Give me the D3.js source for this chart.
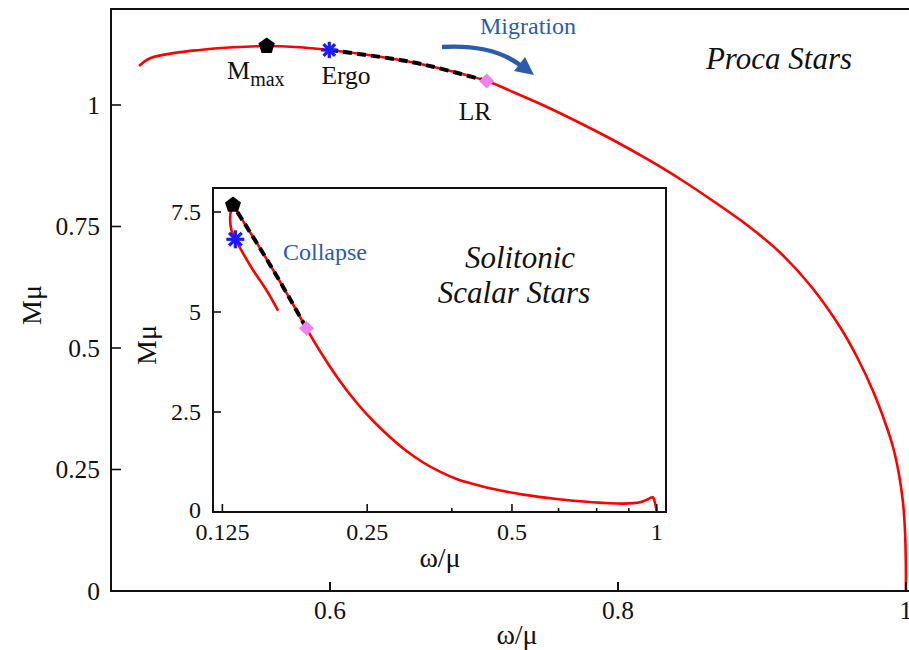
<!DOCTYPE html>
<html>
<head>
<meta charset="utf-8">
<script src="https://cdn.jsdelivr.net/npm/d3@7/dist/d3.min.js"></script>
<style>
  html, body { margin: 0; padding: 0; background: #fff; }
  svg { display: block; }
  text { font-family: "Liberation Serif", "DejaVu Serif", serif; fill: #111; }
</style>
</head>
<body>
<svg id="chart" width="909" height="650"></svg>
<script>
// ---- Proca stars: mass vs frequency (main panel) ----
const procaOmega = [0.4674, 0.4750, 0.4935, 0.5097, 0.5326, 0.5560, 0.5792, 0.5995, 0.6486, 0.6715, 0.7088,
                    0.7271, 0.7507, 0.7736, 0.7965, 0.8201, 0.8431, 0.8660, 0.8896, 0.9125, 0.9347, 0.9542,
                    0.9667, 0.9771, 0.9854, 0.9910, 0.9951, 0.9979, 0.9993, 0.99986, 1.0000];
const procaMass  = [1.0802, 1.0961, 1.1077, 1.1132, 1.1187, 1.1214, 1.1187, 1.1132, 1.0926, 1.0788, 1.0494,
                    1.0267, 0.9959, 0.9630, 0.9280, 0.8889, 0.8477, 0.8025, 0.7531, 0.6965, 0.6245, 0.5432,
                    0.4774, 0.4115, 0.3477, 0.2963, 0.2407, 0.1831, 0.1255, 0.0679, 0.0000];
// special points on the Proca branch: [omega, mass]
const procaMmax = [0.5560, 1.1214];
const procaErgo = [0.5995, 1.1132];
const procaLR   = [0.7088, 1.0494];

// ---- Solitonic scalar stars (inset), stable branch from omega = 1 up to M_max ----
const scalarOmega = [1.0000, 0.9990, 0.9918, 0.9810, 0.9605, 0.9231, 0.8520, 0.7264, 0.6193, 0.5277, 0.4499,
                     0.4153, 0.3836, 0.3540, 0.3269, 0.3018, 0.2787, 0.2572, 0.2375, 0.2193, 0.2024, 0.1869,
                     0.1726, 0.1593, 0.1471, 0.1315];
const scalarMass  = [0.0000, 0.0300, 0.2250, 0.3675, 0.3250, 0.2425, 0.2100, 0.2500, 0.3250, 0.4350, 0.5925,
                     0.7000, 0.8250, 1.0075, 1.2375, 1.5250, 1.8750, 2.2750, 2.7375, 3.2750, 3.9000, 4.5925,
                     5.3350, 6.0550, 6.7400, 7.6750];
// collapse branch beyond M_max
const collapseOmega = [0.1315, 0.1299, 0.1305, 0.1330, 0.1380, 0.1447, 0.1543, 0.1632];
const collapseMass  = [7.6750, 7.4675, 7.0500, 6.8175, 6.4675, 6.0500, 5.5500, 5.0325];
const scalarMmax = [0.1315, 7.6750];
const scalarErgo = [0.1330, 6.8175];
const scalarLR   = [0.1869, 4.5925];

// axis ticks
const mainXTicks = [0.6, 0.8, 1];
const mainYTicks = [0, 0.25, 0.5, 0.75, 1];
const insetXMajor = [0.125, 0.25, 0.5, 1];
const insetXMinor = [0.375, 0.625, 0.75, 0.875];
const insetYTicks = [0, 2.5, 5, 7.5];

const RED = "#ff0000", BLUE = "#1a1aff", VIOLET = "#ee82ee", NAVY = "#2b5cab";

const svg = d3.select("#chart");

function zipPts(xs, ys) { return xs.map((x, i) => [x, ys[i]]); }

// pentagon marker path centred at (0,0)
function pentagon(r) {
  const pts = d3.range(5).map(i => {
    const a = -Math.PI / 2 + i * 2 * Math.PI / 5;
    return [r * Math.cos(a), r * Math.sin(a)];
  });
  return "M" + pts.map(p => p.join(",")).join("L") + "Z";
}
function asterisk(g, cx, cy, r) {
  [90, 45, -45, 0].forEach(deg => {
    const a = deg * Math.PI / 180;
    g.append("line")
      .attr("x1", cx - r * Math.cos(a)).attr("y1", cy - r * Math.sin(a))
      .attr("x2", cx + r * Math.cos(a)).attr("y2", cy + r * Math.sin(a))
      .attr("stroke", BLUE).attr("stroke-width", 3.2).attr("stroke-linecap", "butt");
  });
}
function markers(g, x, y, mmax, ergo, lr, sz) {
  g.append("path").attr("d", pentagon(sz.pent))
    .attr("transform", `translate(${x(mmax[0])},${y(mmax[1])})`).attr("fill", "#000");
  asterisk(g, x(ergo[0]), y(ergo[1]), sz.star);
  g.append("path").attr("d", `M0,${-sz.dia}L${sz.dia},0L0,${sz.dia}L${-sz.dia},0Z`)
    .attr("transform", `translate(${x(lr[0])},${y(lr[1])})`).attr("fill", VIOLET);
}

// ================= main panel =================
const M = { left: 111, right: 912, top: 9, bottom: 591 };
const x = d3.scaleLinear().domain([0.4479, 1.0042]).range([M.left, M.right]);
const y = d3.scaleLinear().domain([0, 1.1975]).range([M.bottom, M.top]);

const main = svg.append("g");
const procaPts = zipPts(procaOmega, procaMass);
const mline = d3.line().x(p => x(p[0])).y(p => y(p[1])).curve(d3.curveCatmullRom.alpha(0.5));
main.append("path").datum(procaPts).attr("d", mline)
  .attr("fill", "none").attr("stroke", RED).attr("stroke-width", 2.6);
main.append("path").datum(procaPts.filter(p => p[0] >= procaErgo[0] && p[0] <= procaLR[0]))
  .attr("d", mline)
  .attr("fill", "none").attr("stroke", "#000").attr("stroke-width", 4).attr("stroke-dasharray", "9,5");
markers(main, x, y, procaMmax, procaErgo, procaLR, { pent: 8.6, star: 8.2, dia: 7.6 });

// frame
main.append("rect").attr("x", M.left).attr("y", M.top)
  .attr("width", M.right - M.left).attr("height", M.bottom - M.top)
  .attr("fill", "none").attr("stroke", "#111").attr("stroke-width", 2);

// ticks (inward) and labels
mainYTicks.forEach(v => {
  main.append("line").attr("x1", M.left).attr("x2", M.left + 10)
    .attr("y1", y(v)).attr("y2", y(v)).attr("stroke", "#111").attr("stroke-width", 1.6);
  main.append("text").attr("x", 100).attr("y", y(v)).attr("dy", "0.35em")
    .attr("text-anchor", "end").attr("font-size", 25.5).text(d3.format("")(v));
});
mainXTicks.forEach(v => {
  main.append("line").attr("x1", x(v)).attr("x2", x(v))
    .attr("y1", M.bottom).attr("y2", M.bottom - 9).attr("stroke", "#111").attr("stroke-width", 2);
  main.append("text").attr("x", x(v)).attr("y", 619)
    .attr("text-anchor", "middle").attr("font-size", 25.5).text(d3.format("")(v));
});
main.append("text").attr("x", 517).attr("y", 644).attr("text-anchor", "middle")
  .attr("font-size", 28).text("ω/μ");
main.append("text").attr("transform", "translate(41,305) rotate(-90)")
  .attr("text-anchor", "middle").attr("font-size", 28).text("Mμ");

// annotations
const mm = main.append("text").attr("x", 227).attr("y", 79).attr("font-size", 26);
mm.append("tspan").text("M");
mm.append("tspan").attr("font-size", 20).attr("dy", 7).text("max");
main.append("text").attr("x", 346).attr("y", 84).attr("text-anchor", "middle").attr("font-size", 25.5).text("Ergo");
main.append("text").attr("x", 475).attr("y", 120).attr("text-anchor", "middle").attr("font-size", 25.5).text("LR");
main.append("text").attr("x", 528).attr("y", 34).attr("text-anchor", "middle")
  .attr("font-size", 24).style("fill", NAVY).text("Migration");
main.append("path").attr("d", "M442,47 Q492,44 520,65")
  .attr("fill", "none").attr("stroke", NAVY).attr("stroke-width", 4.5);
main.append("path").attr("d", "M534,75 L514,71 L525,57 Z").attr("fill", NAVY);
main.append("text").attr("x", 779).attr("y", 69).attr("text-anchor", "middle")
  .attr("font-size", 31).attr("font-style", "italic").text("Proca Stars");

// ================= inset =================
const I = { left: 213, right: 666, top: 188, bottom: 512 };
const ix = d3.scaleLog().base(2).domain([0.1195, 1.0454]).range([I.left, I.right]);
const iy = d3.scaleLinear().domain([0, 8.1]).range([I.bottom, I.top]);

const inset = svg.append("g");
inset.append("rect").attr("x", I.left).attr("y", I.top)
  .attr("width", I.right - I.left).attr("height", I.bottom - I.top)
  .attr("fill", "#fff").attr("stroke", "#111").attr("stroke-width", 2);

const scalarPts = zipPts(scalarOmega, scalarMass);
const iline = d3.line().x(p => ix(p[0])).y(p => iy(p[1])).curve(d3.curveCatmullRom.alpha(0.5));
inset.append("path").datum(scalarPts).attr("d", iline)
  .attr("fill", "none").attr("stroke", RED).attr("stroke-width", 2.6);
inset.append("path").datum(zipPts(collapseOmega, collapseMass)).attr("d", iline)
  .attr("fill", "none").attr("stroke", RED).attr("stroke-width", 2.6);
inset.append("path").datum(scalarPts.filter(p => p[0] <= scalarLR[0] + 1e-9))
  .attr("d", iline)
  .attr("fill", "none").attr("stroke", "#000").attr("stroke-width", 4).attr("stroke-dasharray", "9,5");
markers(inset, ix, iy, scalarMmax, scalarErgo, scalarLR, { pent: 8.4, star: 9, dia: 7.5 });

insetYTicks.forEach(v => {
  inset.append("line").attr("x1", I.left).attr("x2", I.left + 8)
    .attr("y1", iy(v)).attr("y2", iy(v)).attr("stroke", "#111").attr("stroke-width", 1.6);
  inset.append("text").attr("x", 201).attr("y", iy(v) - (v === 0 ? 2 : 0)).attr("dy", "0.35em")
    .attr("text-anchor", "end").attr("font-size", 24).text(d3.format("")(v));
});
insetXMajor.forEach(v => {
  inset.append("line").attr("x1", ix(v)).attr("x2", ix(v))
    .attr("y1", I.bottom).attr("y2", I.bottom - 8).attr("stroke", "#111").attr("stroke-width", 1.6);
  inset.append("text").attr("x", ix(v)).attr("y", 540)
    .attr("text-anchor", "middle").attr("font-size", 24).text(d3.format("")(v));
});
insetXMinor.forEach(v => {
  inset.append("line").attr("x1", ix(v)).attr("x2", ix(v))
    .attr("y1", I.bottom).attr("y2", I.bottom - 4).attr("stroke", "#111").attr("stroke-width", 1.6);
});
inset.append("text").attr("x", 440).attr("y", 567).attr("text-anchor", "middle")
  .attr("font-size", 28).text("ω/μ");
inset.append("text").attr("transform", "translate(156,345) rotate(-90)")
  .attr("text-anchor", "middle").attr("font-size", 28).text("Mμ");

inset.append("text").attr("x", 283).attr("y", 260).attr("font-size", 24)
  .style("fill", NAVY).text("Collapse");
inset.append("text").attr("x", 520).attr("y", 268).attr("text-anchor", "middle")
  .attr("font-size", 31).attr("font-style", "italic").text("Solitonic");
inset.append("text").attr("x", 514).attr("y", 303).attr("text-anchor", "middle")
  .attr("font-size", 31).attr("font-style", "italic").text("Scalar Stars");
</script>
</body>
</html>
